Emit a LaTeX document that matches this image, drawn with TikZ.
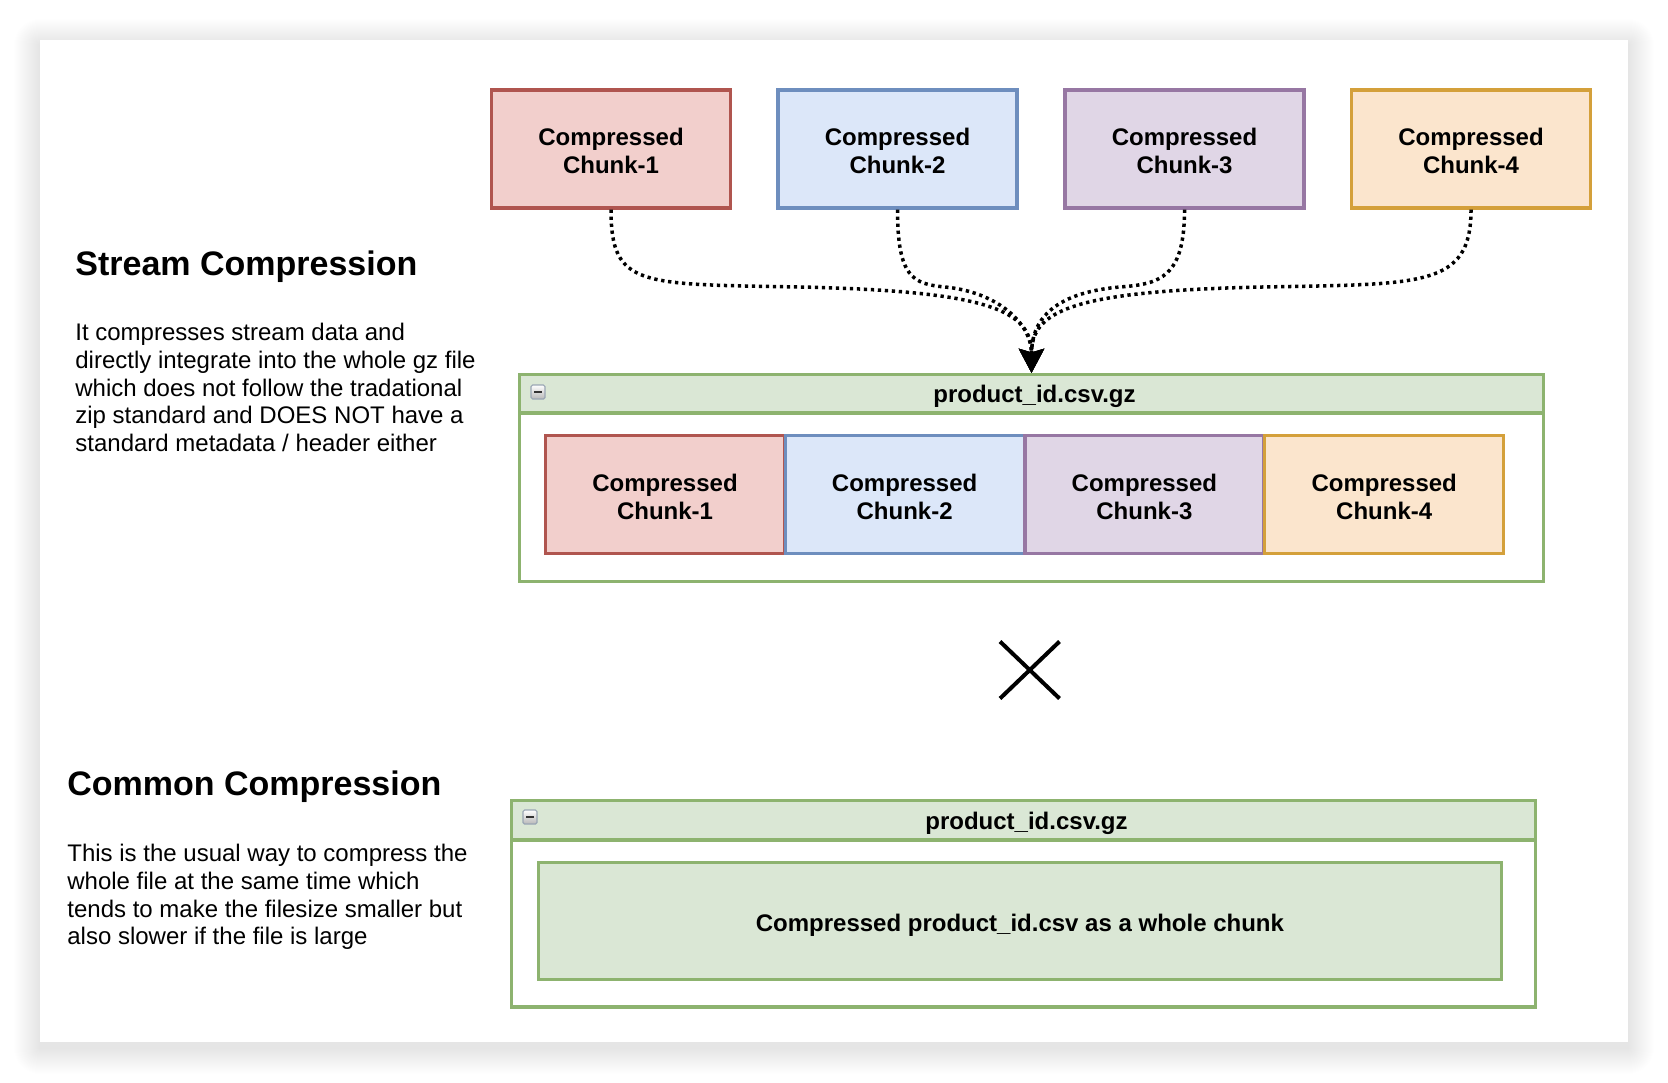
\documentclass[tikz,border=0pt]{standalone}
\usepackage{fontspec}
\setmainfont{Liberation Sans}
\usetikzlibrary{arrows.meta,calc}
\definecolor{redF}{HTML}{F2CFCC}\definecolor{redS}{HTML}{B0554F}
\definecolor{bluF}{HTML}{DCE7F9}\definecolor{bluS}{HTML}{6E8EBE}
\definecolor{purF}{HTML}{E0D6E6}\definecolor{purS}{HTML}{9777A3}
\definecolor{oraF}{HTML}{FBE5CD}\definecolor{oraS}{HTML}{D4A03A}
\definecolor{grnF}{HTML}{DAE7D5}\definecolor{grnS}{HTML}{8DB36F}
\definecolor{iconS}{HTML}{9AA6B4}
\newcommand\chunktxt[1]{\rule{0pt}{10.9pt}Compressed\\Chunk-#1}
\begin{document}
\begin{tikzpicture}[x=0.5pt,y=-0.5pt,
  boxbase/.style={draw, line width=1.6pt, minimum width=119.5pt, minimum height=59pt, inner sep=0pt, align=center,
    font=\fontsize{12}{13.85}\selectfont\bfseries},
  chunkbox/.style={boxbase},
  c1/.style={chunkbox, fill=redF, draw=redS},
  c2/.style={chunkbox, fill=bluF, draw=bluS},
  c3/.style={chunkbox, fill=purF, draw=purS},
  c4/.style={chunkbox, fill=oraF, draw=oraS},
  lane/.style={draw=grnS, fill=white, line width=1.6pt, minimum width=512pt, inner sep=0pt},
  lanehead/.style={draw=grnS, fill=grnF, line width=1.6pt, minimum width=512pt, inner sep=0pt},
  lanetitle/.style={font=\fontsize{12}{14}\selectfont\bfseries, inner sep=0pt, text height=9pt, text depth=0pt},
  icon/.style={draw=iconS, line width=0.6pt, rounded corners=0.8pt, minimum width=7pt, minimum height=7pt, inner sep=0pt,
    top color=white, bottom color=black!28,
    path picture={\draw[line width=1.4pt, black!80] ([xshift=1.5pt]path picture bounding box.west) -- ([xshift=-1.5pt]path picture bounding box.east);}},
  heading/.style={font=\fontsize{17}{20}\selectfont\bfseries, inner sep=0pt},
  bodytext/.style={font=\fontsize{12}{13.85}\selectfont, align=left, inner sep=0pt},
  flow/.style={line width=1.75pt, dash pattern=on 1.65pt off 1.85pt, -{Stealth[length=12pt,width=12.5pt,inset=1.8pt]}}
]
\useasboundingbox (0,0) rectangle (1668,1082);
\fill[white] (0,0) rectangle (1668,1082);
% page shadow
\foreach \k [evaluate=\k as \r using \k*0.5] in {1,...,26}{
  \fill[black, opacity=0.0045, rounded corners=\r pt] (40-\k,45-\k) rectangle (1628+\k,1048+\k);
}
\fill[white] (40,40) rectangle (1628,1042);

% top chunks
\node[c1] (t1) at (611,149) {\chunktxt{1}};
\node[c2] (t2) at (897.5,149) {\chunktxt{2}};
\node[c3] (t3) at (1184.5,149) {\chunktxt{3}};
\node[c4] (t4) at (1471,149) {\chunktxt{4}};

% first gz container
\node[lane, minimum height=103.5pt] (gz1) at (1031.5,478) {};
\node[lanehead, minimum height=19.25pt, anchor=north] (gz1h) at (gz1.north) {};
\node[lanetitle] (gz1t) at ([xshift=1.5pt]gz1h.center) {product\_id.csv.gz};
\node[icon] (ic1) at (538,392) {};
\node[c1] (i1) at (665,494.5) {\chunktxt{1}};
\node[c2] (i2) at (904.6,494.5) {\chunktxt{2}};
\node[c3] (i3) at (1144.4,494.5) {\chunktxt{3}};
\node[c4] (i4) at (1384.2,494.5) {\chunktxt{4}};

% connectors
\coordinate (w1) at (800,287);
\coordinate (w2) at (945,287);
\coordinate (w3) at (1120,287);
\coordinate (w4) at (1262,287);
\draw[flow] (t1.south) .. controls +(0,78) and +(-160,-3) .. (w1) .. controls +(190,4) and +(0,-62) .. (gz1.north);
\draw[flow] (t2.south) .. controls +(0,68) and +(-32,-3) .. (w2) .. controls +(52,5) and +(0,-50) .. (gz1.north);
\draw[flow] (t3.south) .. controls +(0,68) and +(40,-3) .. (w3) .. controls +(-70,6) and +(0,-50) .. (gz1.north);
\draw[flow] (t4.south) .. controls +(0,78) and +(160,-3) .. (w4) .. controls +(-190,4) and +(0,-62) .. (gz1.north);

% cross
\draw[line width=2pt] (1000,641.5) -- (1059.5,698.5);
\draw[line width=2pt] (1000,698.5) -- (1059.5,641.5);

% second gz container
\node[lane, minimum height=103.25pt] (gz2) at (1023.5,903.75) {};
\node[lanehead, minimum height=19.75pt, anchor=north] (gz2h) at (gz2.north) {};
\node[lanetitle] (gz2t) at ([xshift=1.5pt]gz2h.center) {product\_id.csv.gz};
\node[icon] (ic2) at (530,817) {};
\node[boxbase, fill=grnF, draw=grnS, minimum width=481.6pt, minimum height=58.65pt, text height=11pt, text depth=0pt] (whole) at (1019.9,920.85) {Compressed product\_id.csv as a whole chunk};

% texts
\node[heading, anchor=base west] (sh) at (75,275) {Stream Compression};
\node[bodytext, anchor=north west] (sb) at (75,323) {It compresses stream data and\\directly integrate into the whole gz file\\which does not follow the tradational\\zip standard and DOES NOT have a\\standard metadata / header either};
\node[heading, anchor=base west] (ch) at (67,795) {Common Compression};
\node[bodytext, anchor=north west] (cb) at (67,844) {This is the usual way to compress the\\whole file at the same time which\\tends to make the filesize smaller but\\also slower if the file is large};
\end{tikzpicture}
\end{document}
